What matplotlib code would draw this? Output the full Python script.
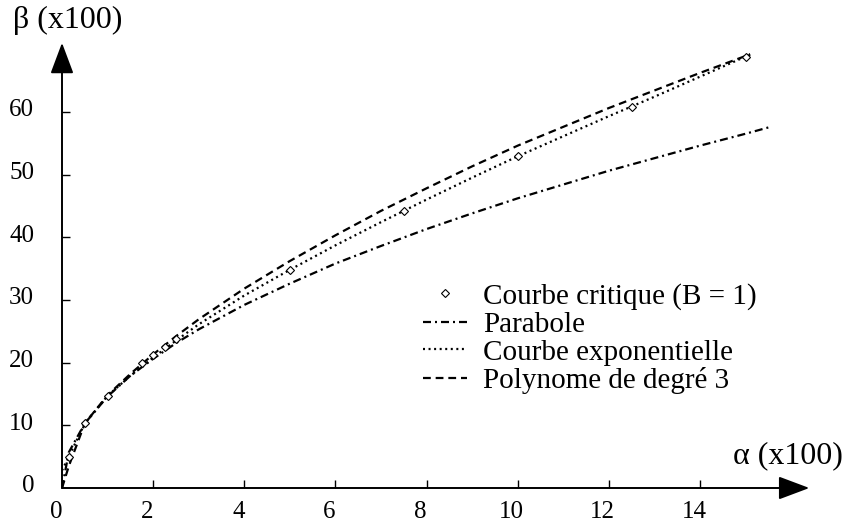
import matplotlib.pyplot as plt
from matplotlib.transforms import ScaledTranslation

plt.rcParams['font.family'] = ['Liberation Serif', 'DejaVu Serif']

# critical curve points (B = 1)
alpha_pts = [0.15, 0.5, 1.0, 1.75, 2.0, 2.25, 2.5, 5.0, 7.5, 10.0, 12.5, 15.0]
beta_pts = [5.0, 10.3, 14.7, 20.0, 21.2, 22.5, 23.8, 34.8, 44.2, 52.9, 60.8, 68.8]

# fitted curves
alpha_par = [0, 0.15, 0.5, 1, 1.5, 2, 2.5, 3, 4, 5, 6, 7, 8, 9, 10, 11, 12, 13, 14, 15, 15.5]
beta_par = [0, 5.7, 10.3, 14.6, 17.9, 20.6, 23.1, 25.3, 29.2, 32.6, 35.8, 38.6,
            41.3, 43.8, 46.2, 48.4, 50.6, 52.6, 54.6, 56.5, 57.5]

alpha_exp = [0, 0.15, 0.5, 1, 1.5, 2, 2.5, 3, 4, 5, 6, 7, 8, 9, 10, 11, 12, 13, 14, 15, 15.1]
beta_exp = [2.8, 5.0, 10.3, 14.7, 17.9, 20.8, 23.5, 26.1, 30.7, 34.8, 38.7, 42.4,
            46.0, 49.5, 52.9, 56.1, 59.3, 62.4, 65.6, 68.8, 69.1]

alpha_pol = [0, 0.15, 0.5, 1, 1.5, 2, 2.5, 3, 4, 5, 6, 7, 8, 9, 10, 11, 12, 13, 14, 15, 15.1]
beta_pol = [0, 3.5, 10.3, 14.8, 18.2, 21.3, 24.2, 26.9, 31.8, 36.2, 40.3, 44.2,
            47.8, 51.3, 54.6, 57.6, 60.6, 63.4, 66.2, 68.9, 69.2]

x_ticks = [0, 2, 4, 6, 8, 10, 12, 14]
y_ticks = [0, 10, 20, 30, 40, 50, 60]

fig = plt.figure(figsize=(8.46, 5.23), dpi=100)
W, H = 846, 523
ax = fig.add_axes([62 / W, 35 / H, 17 * 45.57 / W, 72 * 6.27 / H])
ax.set_xlim(0, 17)
ax.set_ylim(0, 72)
for s in ax.spines.values():
    s.set_visible(False)

lw = 1.6
ax.plot(alpha_pts, beta_pts, linestyle='none', marker='D', markersize=4,
        mfc='white', mec='black', mew=0.8, label='Courbe critique (B = 1)', zorder=5)
ax.plot(alpha_par, beta_par, color='black', lw=lw, ls=(0, (3.6, 1.8, 0.9, 1.8)), label='Parabole')
ax.plot(alpha_exp, beta_exp, color='black', lw=lw, ls=(0, (0.9, 1.6)), label='Courbe exponentielle')
ax.plot(alpha_pol, beta_pol, color='black', lw=lw, ls=(0, (3.5, 2.2)), label='Polynome de degré 3')

# axes with arrow heads
arrow = dict(arrowstyle='-|>,head_length=0.4,head_width=0.15', mutation_scale=48,
             color='black', lw=1.4, shrinkA=0, shrinkB=0)
ax.annotate('', xy=(16.4, 0), xytext=(0, 0), arrowprops=arrow, annotation_clip=False)
ax.annotate('', xy=(0, 71.0), xytext=(0, 0), arrowprops=arrow, annotation_clip=False)

ax.set_xticks(x_ticks)
ax.set_yticks(y_ticks)
ax.tick_params(direction='in', length=6, width=1, labelsize=18, colors='black')
ax.tick_params(axis='x', pad=9)
ax.tick_params(axis='y', pad=20)
for t in ax.xaxis.get_major_ticks()[:1] + ax.yaxis.get_major_ticks()[:1]:
    t.tick1line.set_visible(False)
for lab in ax.get_xticklabels():
    lab.set_transform(lab.get_transform() + ScaledTranslation(-6 / 100, 0, fig.dpi_scale_trans))
for lab in ax.get_yticklabels():
    lab.set_transform(lab.get_transform() + ScaledTranslation(0, 4 / 100, fig.dpi_scale_trans))

fig.text(13 / W, 1 - 28 / H, 'β (x100)', fontsize=23, va='baseline', ha='left')
fig.text(733 / W, 1 - 463 / H, 'α (x100)', fontsize=23, va='baseline', ha='left')

ax.legend(loc='upper left', bbox_to_anchor=(423 / W, 1 - 283 / H), bbox_transform=fig.transFigure,
          frameon=False, fontsize=21, handlelength=1.5, handletextpad=0.55,
          labelspacing=0.05, borderpad=0, borderaxespad=0)

fig.savefig('out.png', dpi=100)
